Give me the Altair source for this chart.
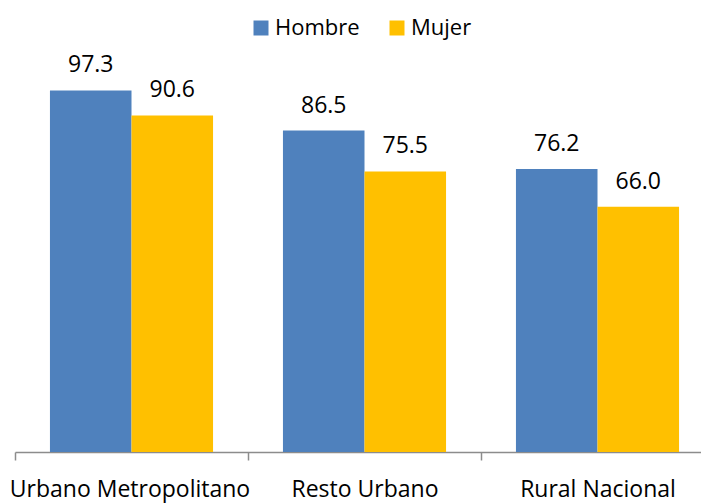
import altair as alt
import pandas as pd

categories = ["Urbano Metropolitano", "Resto Urbano", "Rural Nacional"]
series = ["Hombre", "Mujer"]
hombre = [97.3, 86.5, 76.2]
mujer = [90.6, 75.5, 66.0]
colors = ["#4F81BD", "#FFC000"]

rows = []
for c, h, m in zip(categories, hombre, mujer):
    rows.append({"cat": c, "serie": "Hombre", "val": h})
    rows.append({"cat": c, "serie": "Mujer", "val": m})
df = pd.DataFrame(rows)

FONT = "Open Sans"
FS = 23

x = alt.X("cat:N", sort=categories, title=None,
          scale=alt.Scale(paddingInner=0, paddingOuter=0, range=[0, 699]),
          axis=alt.Axis(tickBand="extent", labelAngle=0, domainColor="#8c8c8c",
                        tickColor="#8c8c8c", tickSize=8, domainWidth=1.5, tickWidth=1.5,
                        labelFont=FONT, labelFontSize=FS, labelColor="#000000",
                        labelOffset={"condition": {"test": "datum.value === 'Urbano Metropolitano'",
                                                   "value": -2}, "value": 0},
                        labelPadding=18, labelLimit=0, grid=False))
xo = alt.XOffset("serie:N", sort=series,
                 scale=alt.Scale(paddingInner=0, paddingOuter=0.4286))
y = alt.Y("val:Q", scale=alt.Scale(domain=[0, 119.5], nice=False, zero=True), axis=None)

bars = alt.Chart(df).mark_bar().encode(
    x=x, xOffset=xo, y=y,
    color=alt.Color("serie:N", sort=series,
                    scale=alt.Scale(domain=series, range=colors),
                    legend=alt.Legend(title=None, orient="none", direction="horizontal",
                                      legendX=235, legendY=9, symbolType="square",
                                      symbolSize=225, symbolStrokeWidth=0,
                                      labelFont=FONT, labelFontSize=22, labelColor="#000000",
                                      labelOffset=3, columnPadding=26, padding=0)),
)

labels = alt.Chart(df).mark_text(font=FONT, fontSize=FS, color="#000000",
                                 baseline="alphabetic", dy=-18).encode(
    x=x, xOffset=xo, y=y, text=alt.Text("val:Q", format=".1f"))

chart = (bars + labels).properties(
    width=686, height=444,
    padding={"left": 7, "top": 0, "right": 0, "bottom": 52},
    autosize=alt.AutoSizeParams(type="none"),
).configure_view(stroke=None)

chart.save("out.html", embed_options={"renderer": "svg", "actions": False})
